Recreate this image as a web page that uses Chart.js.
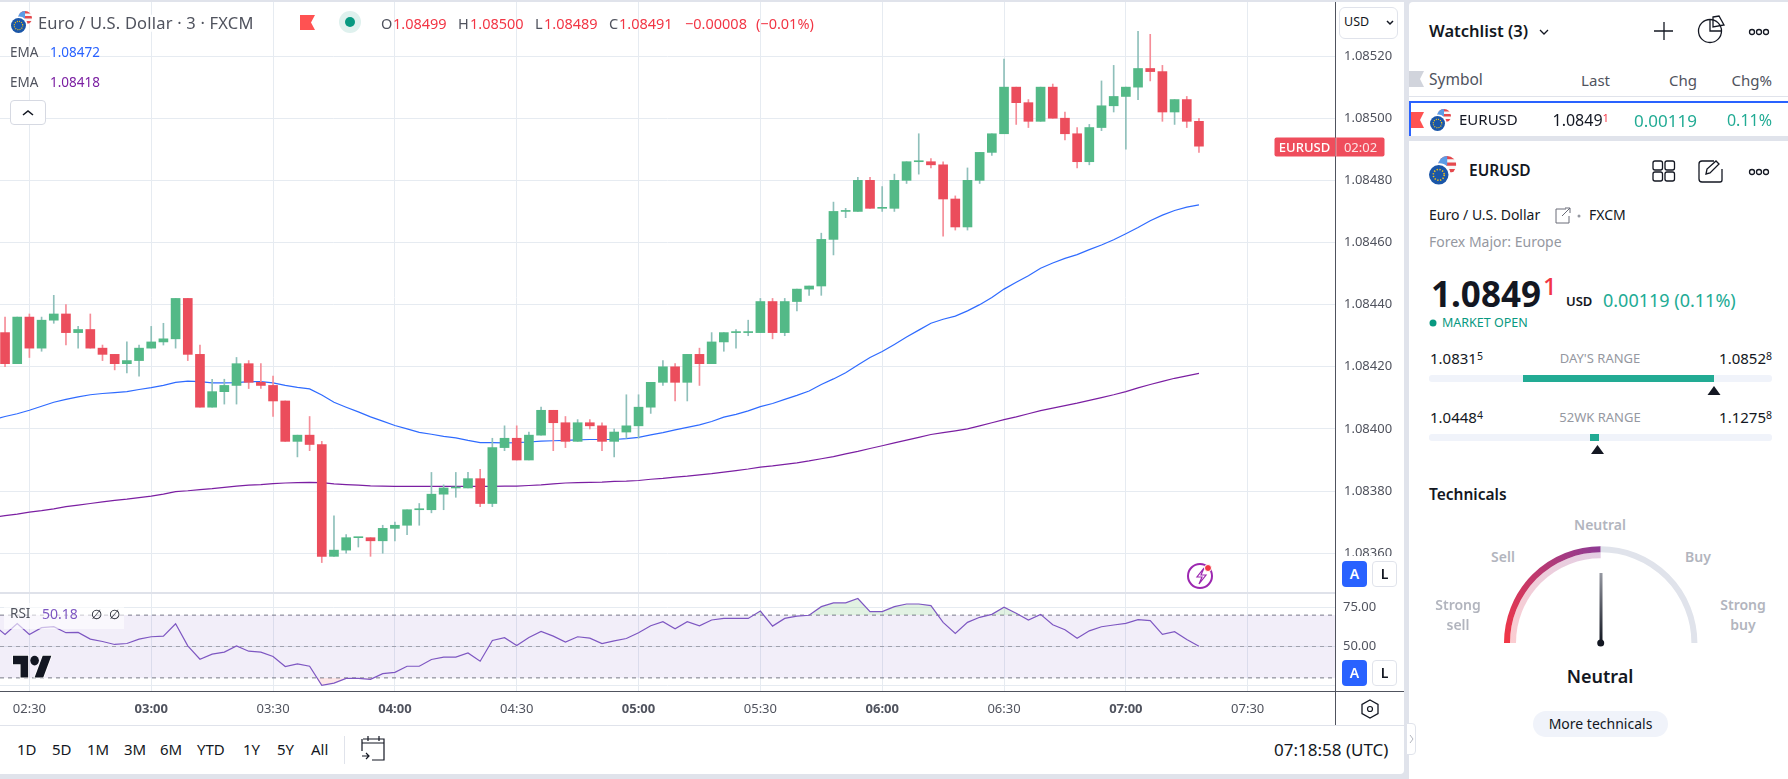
<!DOCTYPE html>
<html lang="en">
<head>
<meta charset="UTF-8" />
<title>EURUSD 3m</title>
<script src="https://cdn.jsdelivr.net/npm/chart.js"></script>
<style>
  html, body { margin: 0; padding: 0; width: 1788px; height: 779px; overflow: hidden; background: #e0e3eb; font-family: 'Noto Sans', sans-serif; color: #131722; }
  .pane { position: absolute; background: #fff; }
  canvas { position: absolute; left: 0; }
  #priceChart { top: 2px; }
  #rsiChart { top: 593px; }
  .t { position: absolute; white-space: nowrap; line-height: 1; transform: translateY(-50%); }
  .r { transform: translate(-100%, -50%); }
  .c { transform: translate(-50%, -50%); text-align: center; }
  .b { position: absolute; background: #e0e3eb; }
  .s { font-size: 70%; position: relative; top: -0.35em; }
  .red { color: #f23645; }
  .teal { color: #22ab94; }
  .grey { color: #9598a1; }
  .lab { color: #50535e; }
  .gauge { color: #b2b5be; font-weight: 600; font-size: 14px; }
  .ax { position: absolute; width: 25px; height: 26px; border-radius: 4px; text-align: center; line-height: 26px; font-size: 14px; font-weight: 600; }
  .on { background: #2962ff; color: #fff; }
  .off { background: #fff; border: 1px solid #e0e3eb; box-sizing: border-box; line-height: 24px; }
  .range { font-size: 15px; color: #131722; }
  svg { position: absolute; left: 0; top: 0; pointer-events: none; }
</style>
</head>
<body>

<div class="pane" style="left:0;top:2px;width:1404px;height:772px;border-radius:0 0 4px 0"></div>
<div class="pane" style="left:1409px;top:2px;width:379px;height:777px;border-radius:4px 0 0 0"></div>
<div class="b" style="left:1409px;top:136px;width:379px;height:5px"></div>

<canvas id="priceChart" width="1404" height="591"></canvas>
<canvas id="rsiChart" width="1404" height="132"></canvas>

<div class="pane" style="left:1336px;top:556px;width:68px;height:36px"></div>
<div class="b" style="left:0;top:592px;width:1335px;height:2px;background:#dfe2ea"></div>
<div class="b" style="left:1335px;top:2px;width:1px;height:723px;background:#50535e"></div>
<div class="b" style="left:0;top:691px;width:1404px;height:1px;background:#50535e"></div>
<div class="b" style="left:0;top:725px;width:1404px;height:1px"></div>

<!-- header -->
<div class="t lab" style="left:38px;top:23px;font-size:16.5px;letter-spacing:.2px;background:#fff">Euro / U.S. Dollar · 3 · FXCM</div>
<div class="t lab" style="left:381px;top:23px;font-size:14.5px">O</div>
<div class="t red" style="left:393px;top:23px;font-size:14.5px">1.08499</div>
<div class="t lab" style="left:458px;top:23px;font-size:14.5px">H</div>
<div class="t red" style="left:470px;top:23px;font-size:14.5px">1.08500</div>
<div class="t lab" style="left:535px;top:23px;font-size:14.5px">L</div>
<div class="t red" style="left:544px;top:23px;font-size:14.5px">1.08489</div>
<div class="t lab" style="left:609px;top:23px;font-size:14.5px">C</div>
<div class="t red" style="left:619px;top:23px;font-size:14.5px">1.08491</div>
<div class="t red" style="left:685px;top:23px;font-size:14.5px">−0.00008</div>
<div class="t red" style="left:756px;top:23px;font-size:14.5px">(−0.01%)</div>

<div class="t lab" style="left:10px;top:53px;font-size:13.5px;background:#fff">EMA</div>
<div class="t" style="left:50px;top:53px;font-size:13.5px;color:#2962ff;background:#fff">1.08472</div>
<div class="t lab" style="left:10px;top:83px;font-size:13.5px;background:#fff">EMA</div>
<div class="t" style="left:50px;top:83px;font-size:13.5px;color:#7b1fa2;background:#fff">1.08418</div>
<div style="position:absolute;left:10px;top:100px;width:36px;height:25px;box-sizing:border-box;border:1px solid #d6d9e2;border-radius:4px;background:#fff"></div>

<!-- price axis bits -->
<div style="position:absolute;left:1339px;top:7px;width:59px;height:32px;box-sizing:border-box;border:1px solid #e0e3eb;border-radius:6px;background:#fff"></div>
<div class="t" style="left:1344px;top:22px;font-size:12.5px">USD</div>
<div class="t c" style="left:1304.5px;top:147px;width:61px;height:19px;line-height:19px;background:#ef4d5c;color:#fff;font-size:13px;border-radius:2px 0 0 2px;font-weight:500">EURUSD</div>
<div class="t c" style="left:1360px;top:147px;width:48px;height:19px;line-height:19px;background:#ef4d5c;color:#fde3e5;font-size:13px;border-radius:0 2px 2px 0;border-left:1px solid #fff">02:02</div>
<div class="ax on" style="left:1342px;top:561px">A</div>
<div class="ax off" style="left:1372px;top:561px">L</div>
<div class="ax on" style="left:1342px;top:660px">A</div>
<div class="ax off" style="left:1372px;top:660px">L</div>

<!-- rsi legend -->
<div style="position:absolute;left:4px;top:603px;width:120px;height:26px;background:rgba(255,255,255,.6)"></div>
<div class="t lab" style="left:10px;top:614px;font-size:13.5px">RSI</div>
<div class="t" style="left:42px;top:614px;font-size:14px;color:#7e57c2">50.18</div>
<div class="t" style="left:91px;top:614px;font-size:13px">∅</div>
<div class="t" style="left:109px;top:614px;font-size:13px">∅</div>

<!-- bottom toolbar -->
<div class="t" style="left:17px;top:749px;font-size:15px">1D</div>
<div class="t" style="left:52px;top:749px;font-size:15px">5D</div>
<div class="t" style="left:87px;top:749px;font-size:15px">1M</div>
<div class="t" style="left:124px;top:749px;font-size:15px">3M</div>
<div class="t" style="left:160px;top:749px;font-size:15px">6M</div>
<div class="t" style="left:197px;top:749px;font-size:15px">YTD</div>
<div class="t" style="left:243px;top:749px;font-size:15px">1Y</div>
<div class="t" style="left:277px;top:749px;font-size:15px">5Y</div>
<div class="t" style="left:311px;top:749px;font-size:15px">All</div>
<div class="b" style="left:344px;top:736px;width:1px;height:28px"></div>
<div class="t" style="left:1274px;top:749px;font-size:17px">07:18:58 (UTC)</div>

<!-- watchlist -->
<div class="t" style="left:1429px;top:31px;font-size:16.5px;font-weight:600">Watchlist (3)</div>
<div class="t lab" style="left:1429px;top:80px;font-size:15.5px">Symbol</div>
<div class="t r lab" style="left:1610px;top:80px;font-size:15px">Last</div>
<div class="t r lab" style="left:1697px;top:80px;font-size:15px">Chg</div>
<div class="t r lab" style="left:1772px;top:80px;font-size:15px">Chg%</div>
<div class="b" style="left:1409px;top:96px;width:379px;height:1px"></div>
<div class="b" style="left:1409px;top:101px;width:379px;height:2px;background:#2962ff"></div>
<div class="b" style="left:1409px;top:101px;width:2px;height:35px;background:#2962ff"></div>
<div class="t" style="left:1459px;top:119px;font-size:15px;width:59px;overflow:hidden">EURUSD</div>
<div class="t r" style="left:1609px;top:120px;font-size:16px">1.0849<span class="s red">1</span></div>
<div class="t r teal" style="left:1697px;top:120px;font-size:17px">0.00119</div>
<div class="t r teal" style="left:1772px;top:120px;font-size:16px">0.11%</div>

<!-- details -->
<div class="t" style="left:1469px;top:171px;font-size:15.5px;font-weight:600">EURUSD</div>
<div class="t" style="left:1429px;top:215px;font-size:14px">Euro / U.S. Dollar</div>
<div class="t" style="left:1589px;top:215px;font-size:14px">FXCM</div>
<div class="t grey" style="left:1429px;top:242px;font-size:14px">Forex Major: Europe</div>
<div class="t" style="left:1431px;top:293px;font-size:35px;font-weight:700">1.0849</div>
<div class="t red" style="left:1543px;top:286px;font-size:24px;font-weight:500">1</div>
<div class="t" style="left:1566px;top:301px;font-size:13px;font-weight:600">USD</div>
<div class="t teal" style="left:1603px;top:300px;font-size:18px">0.00119 (0.11%)</div>
<div class="t" style="left:1442px;top:323px;font-size:12.5px;color:#089981">MARKET OPEN</div>

<div class="t range" style="left:1430px;top:358px">1.0831<span class="s">5</span></div>
<div class="t c grey" style="left:1600px;top:358px;font-size:13px">DAY'S RANGE</div>
<div class="t r range" style="left:1772px;top:358px">1.0852<span class="s">8</span></div>
<div class="b" style="left:1429px;top:375px;width:343px;height:7px;background:#f0f3fa;border-radius:3px"></div>
<div class="b" style="left:1523px;top:375px;width:191px;height:7px;background:#22ab94"></div>
<div class="t range" style="left:1430px;top:417px">1.0448<span class="s">4</span></div>
<div class="t c grey" style="left:1600px;top:417px;font-size:13px">52WK RANGE</div>
<div class="t r range" style="left:1772px;top:417px">1.1275<span class="s">8</span></div>
<div class="b" style="left:1429px;top:434px;width:343px;height:7px;background:#f0f3fa;border-radius:3px"></div>
<div class="b" style="left:1590px;top:434px;width:9px;height:7px;background:#22ab94"></div>

<div class="t" style="left:1429px;top:495px;font-size:15.500px;font-weight:600">Technicals</div>
<div class="t c gauge" style="left:1600px;top:525px">Neutral</div>
<div class="t c gauge" style="left:1503px;top:557px">Sell</div>
<div class="t c gauge" style="left:1698px;top:557px">Buy</div>
<div class="t c gauge" style="left:1458px;top:605px">Strong</div>
<div class="t c gauge" style="left:1458px;top:625px">sell</div>
<div class="t c gauge" style="left:1743px;top:605px">Strong</div>
<div class="t c gauge" style="left:1743px;top:625px">buy</div>
<div class="t c" style="left:1600px;top:676px;font-size:18px;font-weight:600">Neutral</div>
<div style="position:absolute;left:1533px;top:711px;width:135px;height:26px;border-radius:13px;background:#f0f3fa;text-align:center;line-height:26px;font-size:14px">More technicals</div>
<div style="position:absolute;left:1406px;top:723px;width:10px;height:32px;box-sizing:border-box;background:#fff;border:1px solid #e0e3eb;border-radius:0 4px 4px 0"></div>

<svg width="1788" height="779" viewBox="0 0 1788 779" fill="none">
  <defs>
    <linearGradient id="gaugeFill" gradientUnits="userSpaceOnUse" x1="1507" y1="643" x2="1601" y2="549">
      <stop offset="0" stop-color="#f23645" />
      <stop offset="1" stop-color="#8e3b94" />
    </linearGradient>
    <linearGradient id="needle" x1="0" y1="0" x2="0" y2="1">
      <stop offset="0" stop-color="#9598a1" />
      <stop offset="1" stop-color="#131722" />
    </linearGradient>
    <clipPath id="usClip"><circle cx="14" cy="7" r="7" /></clipPath>
    <g id="pair">
      <g clip-path="url(#usClip)">
        <rect x="7" y="0" width="14" height="14" fill="#f7f7f7" />
        <rect x="7" y="0" width="14" height="2.500" fill="#e5484d" />
        <rect x="7" y="5" width="14" height="2.500" fill="#e5484d" />
        <rect x="7" y="10" width="14" height="2.500" fill="#e5484d" />
        <rect x="7" y="0" width="7" height="7.500" fill="#5b9be6" />
      </g>
      <circle cx="8" cy="14" r="8.500" fill="#fff" />
      <circle cx="7.500" cy="14.500" r="7.500" fill="#1a56a8" />
      <circle cx="7.500" cy="14.500" r="4.200" stroke="#f5c518" stroke-width="1.200" stroke-dasharray="1 1.200" />
    </g>
  </defs>

  <use href="#pair" transform="translate(11,11)" />
  <use href="#pair" transform="translate(1430,109)" />
  <use href="#pair" transform="translate(1429,156) scale(1.3)" />

  <path d="M300 15h15l-4 7.500 4 7.500h-15z" fill="#ff5252" />
  <circle cx="350" cy="22" r="11" fill="#dff1ee" />
  <circle cx="350" cy="22" r="5" fill="#089981" />
  <path d="M23 115l5-4 5 4" stroke="#131722" stroke-width="1.600" />
  <path d="M1387 21l3 3 3-3" stroke="#131722" stroke-width="1.500" />

  <circle cx="1200" cy="576" r="12" stroke="#9c27b0" stroke-width="2" />
  <path d="M1204 568l-7 9h5l-3 7 7-9h-5z" stroke="#9c27b0" stroke-width="1.200" />
  <circle cx="1208" cy="568" r="3.500" fill="#f23645" stroke="#fff" />

  <g transform="translate(13,651) scale(1.08,1.2)">
    <path d="M14 22H7V11H0V4h14v18zM28 22h-8l7.500-18h8L28 22z" fill="#131722" stroke="#fff" stroke-width="1.500" paint-order="stroke" />
    <circle cx="20" cy="8" r="4" fill="#131722" />
  </g>

  <path d="M1370 700l8 4.500v9l-8 4.500-8-4.500v-9z" stroke="#131722" stroke-width="1.300" />
  <circle cx="1370" cy="709" r="2.500" stroke="#131722" stroke-width="1.200" />

  <g stroke="#131722" stroke-width="1.200">
    <path d="M362 743h22M363 739h21v21h-12M362 739v12M368 736v5M379 736v5M362 756h7M366 753l3 3-3 3" />
  </g>

  <g stroke="#131722" stroke-width="1.300">
    <path d="M1540 30l4 4 4-4" />
    <path d="M1664 22v18M1654 31h19" />
    <circle cx="1710" cy="31" r="11.500" />
    <path d="M1710 19.500v11.500h11.500M1713 17l6-1 5 9-11 2z" />
    <circle cx="1752" cy="32" r="2.500" /><circle cx="1759" cy="32" r="2.500" /><circle cx="1766" cy="32" r="2.500" />
    <rect x="1653" y="161" width="9.500" height="9" rx="2" /><rect x="1665" y="161" width="9.500" height="9" rx="2" />
    <rect x="1653" y="172" width="9.500" height="9" rx="2" /><rect x="1665" y="172" width="9.500" height="9" rx="2" />
    <path d="M1714 161h-12a3 3 0 0 0-3 3v15a3 3 0 0 0 3 3h18a2 2 0 0 0 2-2v-11M1706 174l1-5 9-8 3 3-9 9z" />
    <circle cx="1752" cy="172" r="2.500" /><circle cx="1759" cy="172" r="2.500" /><circle cx="1766" cy="172" r="2.500" />
  </g>
  <path d="M1566 209h-10v14h13v-7M1562 216l8-8M1565 208h5v5" stroke="#6a6d78" />
  <circle cx="1579" cy="216" r="1.500" fill="#9598a1" />
  <circle cx="1433" cy="323" r="3.500" fill="#089981" />

  <path d="M1409 71h15l-4 8 4 8h-15z" fill="#d1d4dc" />
  <path d="M1411 112h13l-4 8 4 8h-13z" fill="#ff5252" />

  <path d="M1714 386l6.500 9h-13z" fill="#131722" />
  <path d="M1597.500 445l6.500 9h-13z" fill="#131722" />

  <path d="M1507 643a93.700 93.700 0 0 1 93.700-93.700" stroke="url(#gaugeFill)" stroke-width="6" />
  <path d="M1513 643a87.700 87.700 0 0 1 87.700-87.700" stroke="url(#gaugeFill)" stroke-width="6" opacity=".25" />
  <path d="M1600.700 549.300a93.700 93.700 0 0 1 93.700 93.700" stroke="#e0e3eb" stroke-width="6" />
  <rect x="1599.500" y="573" width="3" height="69" fill="url(#needle)" />
  <circle cx="1600.700" cy="643" r="3.500" fill="#131722" />
  <path d="M1410 735l3 4-3 4" stroke="#b2b5be" />
</svg>

<script>
  // 3 minute candles, 02:24 to 07:18 UTC
  const times = [
    '02:24','02:27','02:30','02:33','02:36','02:39','02:42','02:45','02:48','02:51',
    '02:54','02:57','03:00','03:03','03:06','03:09','03:12','03:15','03:18','03:21',
    '03:24','03:27','03:30','03:33','03:36','03:39','03:42','03:45','03:48','03:51',
    '03:54','03:57','04:00','04:03','04:06','04:09','04:12','04:15','04:18','04:21',
    '04:24','04:27','04:30','04:33','04:36','04:39','04:42','04:45','04:48','04:51',
    '04:54','04:57','05:00','05:03','05:06','05:09','05:12','05:15','05:18','05:21',
    '05:24','05:27','05:30','05:33','05:36','05:39','05:42','05:45','05:48','05:51',
    '05:54','05:57','06:00','06:03','06:06','06:09','06:12','06:15','06:18','06:21',
    '06:24','06:27','06:30','06:33','06:36','06:39','06:42','06:45','06:48','06:51',
    '06:54','06:57','07:00','07:03','07:06','07:09','07:12','07:15','07:18'
  ];
  const opens = [
    1.08431,1.08421,1.08436,1.08426,1.08435,1.08437,1.08431,1.08432,1.08426,1.08424,
    1.08421,1.08422,1.08426,1.08428,1.08429,1.08442,1.08424,1.08407,1.08412,1.08414,
    1.08421,1.08415,1.08414,1.08409,1.08396,1.08398,1.08395,1.08359,1.08361,1.08365,
    1.08365,1.08364,1.08368,1.08369,1.08374,1.08374,1.08379,1.08381,1.08381,1.08384,
    1.08376,1.08394,1.08397,1.08390,1.08398,1.08406,1.08402,1.08396,1.08402,1.08401,
    1.08396,1.08399,1.08401,1.08407,1.08415,1.08420,1.08415,1.08424,1.08421,1.08428,
    1.08431,1.08431,1.08431,1.08441,1.08431,1.08441,1.08445,1.08446,1.08461,1.08470,
    1.08470,1.08480,1.08471,1.08471,1.08480,1.08486,1.08486,1.08485,1.08474,1.08465,
    1.08480,1.08489,1.08495,1.08510,1.08505,1.08499,1.08510,1.08500,1.08495,1.08486,
    1.08497,1.08504,1.08507,1.08510,1.08516,1.08515,1.08502,1.08506,1.08499
  ];
  const highs = [
    1.08436,1.08436,1.08437,1.08436,1.08443,1.08440,1.08433,1.08437,1.08427,1.08424,
    1.08428,1.08427,1.08433,1.08434,1.08442,1.08442,1.08427,1.08416,1.08416,1.08423,
    1.08422,1.08421,1.08417,1.08409,1.08398,1.08404,1.08396,1.08372,1.08366,1.08365,
    1.08365,1.08369,1.08370,1.08374,1.08376,1.08386,1.08382,1.08386,1.08386,1.08387,
    1.08397,1.08401,1.08401,1.08399,1.08407,1.08406,1.08404,1.08403,1.08403,1.08402,
    1.08400,1.08411,1.08411,1.08415,1.08422,1.08421,1.08424,1.08426,1.08431,1.08431,
    1.08432,1.08435,1.08442,1.08442,1.08442,1.08445,1.08446,1.08463,1.08473,1.08471,
    1.08481,1.08481,1.08478,1.08482,1.08486,1.08495,1.08487,1.08486,1.08475,1.08484,
    1.08489,1.08495,1.08519,1.08510,1.08506,1.08510,1.08511,1.08502,1.08497,1.08498,
    1.08512,1.08517,1.08510,1.08528,1.08527,1.08517,1.08506,1.08507,1.08500
  ];
  const lows = [
    1.08420,1.08421,1.08423,1.08425,1.08434,1.08427,1.08426,1.08426,1.08422,1.08419,
    1.08418,1.08417,1.08426,1.08427,1.08426,1.08422,1.08407,1.08407,1.08408,1.08408,
    1.08413,1.08413,1.08404,1.08396,1.08391,1.08393,1.08357,1.08359,1.08360,1.08362,
    1.08359,1.08360,1.08364,1.08366,1.08369,1.08373,1.08374,1.08378,1.08381,1.08375,
    1.08375,1.08393,1.08390,1.08390,1.08398,1.08393,1.08394,1.08396,1.08400,1.08393,
    1.08391,1.08397,1.08397,1.08405,1.08414,1.08409,1.08409,1.08414,1.08421,1.08425,
    1.08426,1.08430,1.08431,1.08429,1.08430,1.08438,1.08443,1.08443,1.08456,1.08468,
    1.08470,1.08471,1.08470,1.08470,1.08479,1.08482,1.08484,1.08462,1.08464,1.08464,
    1.08479,1.08488,1.08495,1.08498,1.08497,1.08499,1.08500,1.08493,1.08484,1.08485,
    1.08496,1.08502,1.08490,1.08506,1.08512,1.08499,1.08498,1.08497,1.08489
  ];
  const closes = [
    1.08421,1.08436,1.08426,1.08435,1.08437,1.08431,1.08432,1.08426,1.08424,1.08421,
    1.08422,1.08426,1.08428,1.08429,1.08442,1.08424,1.08407,1.08412,1.08414,1.08421,
    1.08415,1.08414,1.08409,1.08396,1.08398,1.08395,1.08359,1.08361,1.08365,1.08365,
    1.08364,1.08368,1.08369,1.08374,1.08374,1.08379,1.08381,1.08381,1.08384,1.08376,
    1.08394,1.08397,1.08390,1.08398,1.08406,1.08402,1.08396,1.08402,1.08401,1.08396,
    1.08399,1.08401,1.08407,1.08415,1.08420,1.08415,1.08424,1.08421,1.08428,1.08431,
    1.08431,1.08431,1.08441,1.08431,1.08441,1.08445,1.08446,1.08461,1.08470,1.08470,
    1.08480,1.08471,1.08471,1.08480,1.08486,1.08486,1.08485,1.08474,1.08465,1.08480,
    1.08489,1.08495,1.08510,1.08505,1.08499,1.08510,1.08500,1.08495,1.08486,1.08497,
    1.08504,1.08507,1.08510,1.08516,1.08515,1.08502,1.08506,1.08499,1.08491
  ];
  // the lines start one bar earlier, just off the left edge
  const lineTimes = ['02:21'].concat(times);
  const emaFast = [
    1.084030,
    1.084040,1.084049,1.084060,1.084073,1.084086,1.084095,1.084103,1.084110,1.084114,1.084117,
    1.084120,1.084127,1.084133,1.084140,1.084150,1.084154,1.084152,1.084148,1.084148,1.084149,
    1.084152,1.084152,1.084148,1.084140,1.084134,1.084129,1.084109,1.084086,1.084070,1.084055,
    1.084039,1.084025,1.084011,1.084000,1.083989,1.083983,1.083976,1.083971,1.083963,1.083956,
    1.083956,1.083955,1.083956,1.083958,1.083961,1.083962,1.083963,1.083965,1.083966,1.083966,
    1.083966,1.083969,1.083973,1.083981,1.083988,1.083997,1.084005,1.084013,1.084024,1.084038,
    1.084047,1.084058,1.084072,1.084082,1.084095,1.084108,1.084122,1.084143,1.084161,1.084181,
    1.084206,1.084230,1.084249,1.084272,1.084296,1.084318,1.084340,1.084353,1.084363,1.084380,
    1.084400,1.084423,1.084450,1.084472,1.084493,1.084517,1.084534,1.084549,1.084561,1.084577,
    1.084592,1.084609,1.084628,1.084648,1.084670,1.084688,1.084703,1.084714,1.084721
  ];
  const emaSlow = [
    1.083716,
    1.083721,1.083726,1.083732,1.083737,1.083743,1.083750,1.083755,1.083760,1.083765,1.083770,
    1.083774,1.083779,1.083784,1.083790,1.083798,1.083801,1.083805,1.083808,1.083812,1.083816,
    1.083819,1.083821,1.083824,1.083826,1.083827,1.083828,1.083827,1.083823,1.083821,1.083819,
    1.083817,1.083816,1.083815,1.083815,1.083815,1.083815,1.083815,1.083815,1.083815,1.083815,
    1.083815,1.083816,1.083816,1.083818,1.083820,1.083823,1.083826,1.083827,1.083828,1.083829,
    1.083831,1.083832,1.083834,1.083838,1.083841,1.083845,1.083848,1.083852,1.083856,1.083861,
    1.083866,1.083871,1.083877,1.083881,1.083886,1.083891,1.083897,1.083904,1.083911,1.083920,
    1.083928,1.083937,1.083946,1.083955,1.083964,1.083973,1.083982,1.083988,1.083994,1.084000,
    1.084010,1.084020,1.084030,1.084039,1.084049,1.084059,1.084067,1.084075,1.084083,1.084092,
    1.084101,1.084110,1.084120,1.084132,1.084143,1.084153,1.084163,1.084171,1.084179
  ];
  const rsi = [
    64.0,
    57.7,64.7,57.7,62.0,62.6,58.8,59.0,54.7,53.2,51.3,
    51.9,54.7,56.2,56.6,64.5,50.4,41.9,45.1,46.4,50.4,
    47.0,46.4,43.6,37.2,38.9,37.4,25.2,26.7,29.7,29.7,
    29.1,32.7,33.5,37.4,37.4,41.7,43.2,43.2,45.9,40.6,
    53.8,55.6,50.6,55.8,59.6,56.6,52.8,56.2,55.3,51.9,
    53.6,55.1,58.8,63.2,65.8,61.3,65.8,63.2,66.9,67.9,
    67.9,67.9,72.6,63.0,67.9,69.4,69.9,75.4,77.8,77.8,
    80.6,72.2,72.2,75.4,77.1,77.1,76.1,65.4,58.3,65.4,
    68.6,70.5,75.0,71.2,66.9,70.5,63.9,60.7,55.3,60.0,
    62.6,63.7,64.7,67.1,66.5,57.7,59.4,54.5,50.18
  ];
  const priceTicks = [1.0852, 1.085, 1.0848, 1.0846, 1.0844, 1.0842, 1.084, 1.0838, 1.0836];
  const rsiTicks = [75, 50, 25];
  const rsiLevels = [70, 50, 30];
  const timeTicks = ['02:30','03:00','03:30','04:00','04:30','05:00','05:30','06:00','06:30','07:00','07:30'];

  const toMin = s => parseInt(s.slice(0, 2)) * 60 + parseInt(s.slice(3));
  const fromMin = m => String(Math.floor(m / 60)).padStart(2, '0') + ':' + String(m % 60).padStart(2, '0');
  const mins = times.map(toMin);
  const lineMins = lineTimes.map(toMin);
  const xMin = 142.76, xMax = 471.5;

  const GRID = '#e6ebf1';
  const AXIS_FONT = "'Noto Sans', sans-serif";
  const up = closes.map((c, i) => c >= opens[i]);

  // tick labels should not shrink the plot area
  const noMargins = s => { s.paddingTop = 0; s.paddingBottom = 0; s.paddingLeft = 0; s.paddingRight = 0; };

  const xAxis = showLabels => ({
    type: 'linear',
    min: xMin,
    max: xMax,
    offset: false,
    grid: { color: GRID, offset: false, drawTicks: false },
    border: { display: false },
    afterBuildTicks: s => { s.ticks = timeTicks.map(t => ({ value: toMin(t) })); },
    afterFit: s => { s.height = showLabels ? 33 : 0; noMargins(s); },
    ticks: {
      display: showLabels,
      autoSkip: false,
      maxRotation: 0,
      padding: 9,
      color: '#50535e',
      font: c => ({ family: AXIS_FONT, size: 13, weight: c.tick && c.tick.value % 60 === 0 ? '700' : '400' }),
      callback: v => fromMin(v)
    }
  });

  new Chart(document.getElementById('priceChart'), {
    type: 'bar',
    data: {
      datasets: [
        {
          label: 'body',
          order: 0,
          grouped: false,
          barThickness: 9,
          minBarLength: 1,
          data: mins.map((x, i) => ({ x, y: [opens[i], closes[i]] })),
          backgroundColor: up.map(u => u ? '#53b987' : '#eb4d5c')
        },
        {
          label: 'wick',
          order: 1,
          grouped: false,
          barThickness: 1,
          data: mins.map((x, i) => ({ x, y: [lows[i], highs[i]] })),
          backgroundColor: up.map(u => u ? '#8fc0bb' : '#f58d98')
        },
        {
          type: 'line',
          label: 'EMA fast',
          order: 2,
          data: lineMins.map((x, i) => ({ x, y: emaFast[i] })),
          borderColor: '#2f6bff',
          borderWidth: 1.2,
          pointRadius: 0
        },
        {
          type: 'line',
          label: 'EMA slow',
          order: 3,
          data: lineMins.map((x, i) => ({ x, y: emaSlow[i] })),
          borderColor: '#7b1fa2',
          borderWidth: 1.2,
          pointRadius: 0
        }
      ]
    },
    options: {
      responsive: false,
      animation: false,
      layout: { padding: 0 },
      plugins: { legend: { display: false }, tooltip: { enabled: false } },
      scales: {
        x: xAxis(false),
        y: {
          position: 'right',
          min: 1.083472,
          max: 1.085374,
          beginAtZero: false,
          grid: { color: GRID, drawTicks: false },
          border: { display: false },
          afterBuildTicks: s => { s.ticks = priceTicks.map(value => ({ value })); },
          afterFit: s => { s.width = 69; noMargins(s); },
          ticks: {
            padding: 9,
            color: '#50535e',
            font: { family: AXIS_FONT, size: 13 },
            callback: v => v.toFixed(5)
          }
        }
      }
    }
  });

  const band = (value, color) => ({
    type: 'line',
    data: [{ x: xMin, y: value }, { x: xMax, y: value }],
    borderColor: color,
    borderWidth: 1,
    borderDash: [4, 4],
    pointRadius: 0
  });

  new Chart(document.getElementById('rsiChart'), {
    type: 'line',
    data: {
      datasets: [
        Object.assign(band(rsiLevels[0], '#787b86'), { order: 5 }),
        Object.assign(band(rsiLevels[2], '#787b86'), { order: 4, fill: '-1', backgroundColor: 'rgba(126,87,194,0.1)' }),
        Object.assign(band(rsiLevels[1], 'rgba(120,123,134,0.6)'), { order: 3 }),
        {
          order: 2,
          data: lineMins.map((x, i) => ({ x, y: rsi[i] })),
          borderWidth: 0,
          pointRadius: 0,
          fill: { target: { value: rsiLevels[2] }, above: 'rgba(0,0,0,0)', below: 'rgba(242,54,69,0.12)' }
        },
        {
          order: 1,
          data: lineMins.map((x, i) => ({ x, y: rsi[i] })),
          borderColor: '#7e57c2',
          borderWidth: 1.2,
          pointRadius: 0,
          fill: { target: { value: rsiLevels[0] }, above: 'rgba(76,175,80,0.16)', below: 'rgba(0,0,0,0)' }
        }
      ]
    },
    options: {
      responsive: false,
      animation: false,
      layout: { padding: 0 },
      plugins: { legend: { display: false }, tooltip: { enabled: false } },
      scales: {
        x: xAxis(true),
        y: {
          position: 'right',
          min: 21,
          max: 84.1,
          grid: { color: GRID, drawTicks: false },
          border: { display: false },
          afterBuildTicks: s => { s.ticks = rsiTicks.map(value => ({ value })); },
          afterFit: s => { s.width = 69; noMargins(s); },
          ticks: {
            padding: 8,
            color: '#50535e',
            font: { family: AXIS_FONT, size: 13 },
            callback: v => v === 25 ? '' : v.toFixed(2)
          }
        }
      }
    }
  });
</script>
</body>
</html>
